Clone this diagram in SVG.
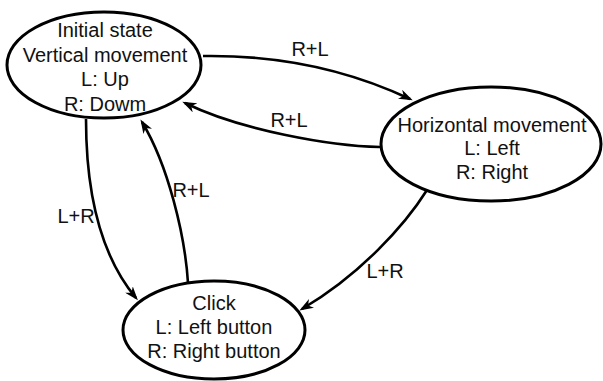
<svg xmlns="http://www.w3.org/2000/svg" width="603" height="381" viewBox="0 0 603 381">
<style>
.node ellipse{fill:#fff;stroke:#000;stroke-width:3}
text{font-family:"Liberation Sans",Arial,sans-serif;font-size:20px;fill:#111;text-anchor:middle}
.edge{fill:none;stroke:#000;stroke-width:2.6;marker-end:url(#arr)}
</style>
<defs>
<marker id="arr" markerUnits="userSpaceOnUse" viewBox="0 0 14 10" markerWidth="14" markerHeight="10" refX="11" refY="5" orient="auto">
<path d="M0,0 L14,5 L0,10 L4,5 z" fill="#000"/>
</marker>
</defs>
<rect width="603" height="381" fill="#fff"/>
<g id="connectors">
<path class="edge" d="M203,56 C270,55 340,66 410,99"/>
<path class="edge" d="M380,147 C330,146 240,130 185,103"/>
<path class="edge" d="M86,119 C86,190 100,255 136,298"/>
<path class="edge" d="M188,283 C185,235 168,165 142,122"/>
<path class="edge" d="M427,190 C405,225 360,275 302,309"/>
<text x="310" y="56">R+L</text>
<text x="289" y="127">R+L</text>
<text x="191" y="197">R+L</text>
<text x="76" y="223">L+R</text>
<text x="385" y="278">L+R</text>
</g>
<g id="initial" class="node">
<ellipse cx="104" cy="65" rx="97" ry="53"/>
<text x="105" y="37">Initial state</text>
<text x="105" y="62">Vertical movement</text>
<text x="105" y="86">L: Up</text>
<text x="105" y="111">R: Dowm</text>
</g>
<g id="horizontal" class="node">
<ellipse cx="491" cy="144" rx="110" ry="57"/>
<text x="492" y="132">Horizontal movement</text>
<text x="492" y="155">L: Left</text>
<text x="492" y="179">R: Right</text>
</g>
<g id="click" class="node">
<ellipse cx="214" cy="330" rx="91" ry="49"/>
<text x="214" y="310">Click</text>
<text x="214" y="334">L: Left button</text>
<text x="214" y="358">R: Right button</text>
</g>
</svg>
